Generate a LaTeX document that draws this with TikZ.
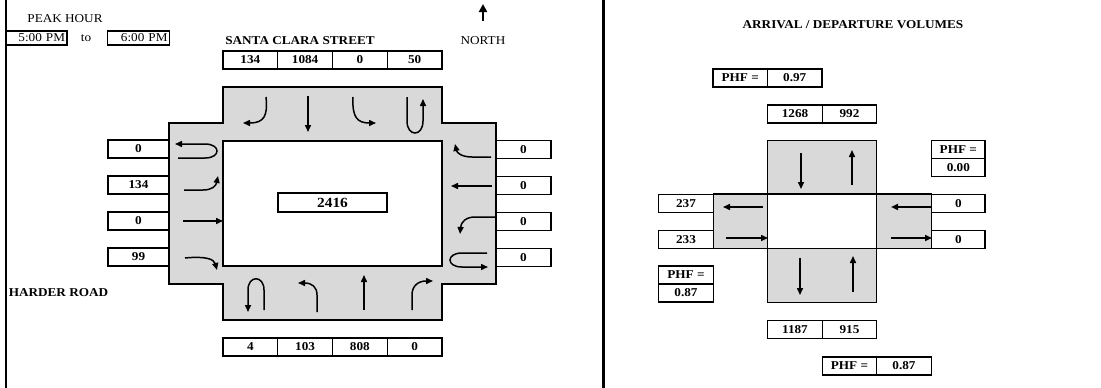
\documentclass[tikz,border=0pt]{standalone}
\usepackage{fontspec}
\setmainfont{Liberation Serif}[FakeStretch=1.1]
\usetikzlibrary{positioning,arrows.meta}

\definecolor{roadgray}{RGB}{217,217,217}

\begin{document}
\begin{tikzpicture}[
  x=1pt, y=-1pt,
  frame/.style={line width=2.6pt},
  plain/.style={font=\fontsize{12}{14}\selectfont, inner sep=0pt},
  head/.style={font=\fontsize{12}{14}\selectfont\bfseries, inner sep=0pt},
  timebox/.style={draw, line width=1.2pt, outer sep=0pt, inner sep=2pt,
    minimum height=14pt, align=right, font=\fontsize{12}{14}\selectfont},
  cell/.style={draw, line width=1.3pt, outer sep=0pt, inner sep=0pt,
    minimum height=18pt, font=\fontsize{12}{14}\selectfont\bfseries},
  vcell/.style={cell, minimum width=54.75pt},
  wcell/.style={cell, minimum width=61pt},
  acell/.style={cell, minimum width=54.5pt},
  road/.style={draw, line width=1.5pt, fill=roadgray},
  mv/.style={line width=1.5pt, -{Triangle[length=7pt,width=6pt]}},
  northarr/.style={line width=2.4pt, -{Triangle[length=8pt,width=8pt]}},
]
  \useasboundingbox (0,0) rectangle (1101,388);

  % Frame
  \draw[frame] (6,0) -- (6,388);
  \draw[frame] (603.5,0) -- (603.5,388);

  % Peak hour
  \node[plain] (peak) at (65,19) {PEAK HOUR};
  \node[timebox, text width=57pt] (tstart) at (36.5,38) {5:00 PM};
  \node[plain] (to) at (86,38) {to};
  \node[timebox, text width=58pt] (tend) at (138.5,38) {6:00 PM};

  % Street names and north arrow
  \node[head] (nsname) at (300,41) {SANTA CLARA STREET};
  \node[head] (ewname) at (58.5,293) {HARDER ROAD};
  \node[plain] (north) at (483,41) {NORTH};
  \coordinate (ntail) at (483,21);
  \coordinate (ntip) at (483,4);
  \draw[northarr] (ntail) -- (ntip);

  % Intersection
  \draw[road] (223,87) -- (442,87) -- (442,123) -- (496,123) -- (496,284)
    -- (442,284) -- (442,320) -- (223,320) -- (223,284) -- (169,284)
    -- (169,123) -- (223,123) -- cycle;
  \draw[line width=1.5pt, fill=white] (223,141) rectangle (442,266);
  \node[cell, line width=2.2pt, minimum width=109pt, minimum height=19pt,
    font=\fontsize{14}{16}\selectfont\bfseries] (total) at (332.5,202.5) {2416};

  % Southbound volumes
  \node[vcell] (sb1) at (250.375,60) {134};
  \node[vcell, right=0pt of sb1] (sb2) {1084};
  \node[vcell, right=0pt of sb2] (sb3) {0};
  \node[vcell, right=0pt of sb3] (sb4) {50};

  % Northbound volumes
  \node[vcell] (nb1) at (250.375,347) {4};
  \node[vcell, right=0pt of nb1] (nb2) {103};
  \node[vcell, right=0pt of nb2] (nb3) {808};
  \node[vcell, right=0pt of nb3] (nb4) {0};

  % Eastbound volumes
  \node[wcell] (eb1) at (138.5,149) {0};
  \node[wcell] (eb2) at (138.5,185) {134};
  \node[wcell] (eb3) at (138.5,221) {0};
  \node[wcell] (eb4) at (138.5,257) {99};

  % Westbound volumes
  \node[cell, minimum width=55pt] (wb1) at (523.5,149.5) {0};
  \node[cell, minimum width=55pt] (wb2) at (523.5,185.5) {0};
  \node[cell, minimum width=55pt] (wb3) at (523.5,221.5) {0};
  \node[cell, minimum width=55pt] (wb4) at (523.5,257.5) {0};

  % Southbound movements
  \draw[mv] (266,97) .. controls (268,116) and (264,123) .. (243,123);
  \draw[mv] (308,96) -- (308,132);
  \draw[mv] (353,97) .. controls (352,117) and (357,123) .. (376,123);
  \draw[mv] (407,97) -- (407,121) .. controls (407,137) and (423,137) .. (423,121) -- (423,99);

  % Eastbound movements
  \draw[mv] (178,158) -- (205,158) .. controls (221,158) and (221,144) .. (205,144) -- (175,144);
  \draw[mv] (184,190) -- (203,190) .. controls (212,190) and (216,186) .. (218,176);
  \draw[mv] (183,221) -- (223,221);
  \draw[mv] (185,258) .. controls (205,256) and (214,259) .. (217,270);

  % Westbound movements
  \draw[mv] (491,157) -- (472,157) .. controls (462,157) and (457,153) .. (455,144);
  \draw[mv] (492,186) -- (451,186);
  \draw[mv] (495,217) -- (475,217) .. controls (466,217) and (461,222) .. (460,234);
  \draw[mv] (487,253) -- (462,253) .. controls (446,253) and (446,267) .. (462,267) -- (488,267);

  % Northbound movements
  \draw[mv] (264,310) -- (264,290) .. controls (264,275) and (248,275) .. (248,290) -- (248,312);
  \draw[mv] (317,312) -- (317,295) .. controls (317,287) and (312,283) .. (298,283);
  \draw[mv] (364,310) -- (364,275);
  \draw[mv] (412,310) -- (412,295) .. controls (412,286) and (418,281) .. (433,281);

  % Arrival / departure panel
  \node[head] (avtitle) at (853,25) {ARRIVAL / DEPARTURE VOLUMES};
  \draw[road] (767.7,140.7) -- (876.7,140.7) -- (876.7,194) -- (931.7,194)
    -- (931.7,248.3) -- (876.7,248.3) -- (876.7,302.3) -- (767.7,302.3)
    -- (767.7,248.3) -- (713.3,248.3) -- (713.3,194) -- (767.7,194) -- cycle;
  \draw[line width=1.5pt, fill=white] (767.7,194) rectangle (876.7,248.3);

  \node[acell] (phfn1) at (740.2,78) {PHF =};
  \node[acell, right=0pt of phfn1] (phfn2) {0.97};
  \node[acell] (avn1) at (795,114) {1268};
  \node[acell, right=0pt of avn1] (avn2) {992};
  \node[cell, minimum width=53.3pt] (phfe1) at (958.3,149.5) {PHF =};
  \node[cell, minimum width=53.3pt] (phfe2) at (958.3,167.4) {0.00};
  \node[acell] (avw1) at (686,203.2) {237};
  \node[acell] (avw2) at (686,239.2) {233};
  \node[cell, minimum width=53.3pt] (ave1) at (958.3,203.2) {0};
  \node[cell, minimum width=53.3pt] (ave2) at (958.3,239.2) {0};
  \node[acell] (phfw1) at (686,275) {PHF =};
  \node[acell] (phfw2) at (686,293) {0.87};
  \node[acell] (avs1) at (795,329.2) {1187};
  \node[acell, right=0pt of avs1] (avs2) {915};
  \node[acell] (phfs1) at (849.5,366) {PHF =};
  \node[acell, right=0pt of phfs1] (phfs2) {0.87};

  % Arrival / departure arrows
  \draw[mv] (801,153) -- (801,189);
  \draw[mv] (852,185) -- (852,150);
  \draw[mv] (800,258) -- (800,295);
  \draw[mv] (853,292) -- (853,256);
  \draw[mv] (763,207) -- (723,207);
  \draw[mv] (726,238) -- (768,238);
  \draw[mv, line width=2.2pt] (931,207) -- (891,207);
  \draw[mv, line width=1.8pt] (891,238) -- (932,238);
\end{tikzpicture}
\end{document}
